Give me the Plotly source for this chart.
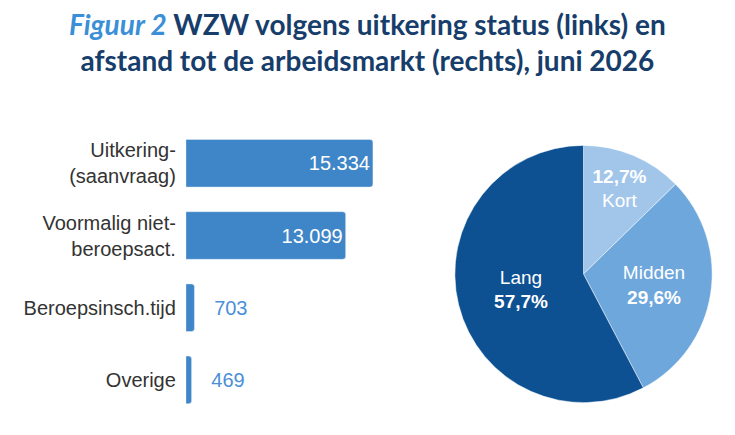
import plotly.graph_objects as go

# bar chart data (left)
categories = ["Uitkering-<br>(saanvraag)", "Voormalig niet-<br>beroepsact.", "Beroepsinsch.tijd", "Overige"]
counts = [15334, 13099, 703, 469]
count_labels = ["15.334", "13.099", "703", "469"]

# pie chart data (right)
pie_labels = ["Kort", "Midden", "Lang"]
pie_values = [12.7, 29.6, 57.7]
pie_text = ["<b>12,7%</b><br>Kort", "Midden<br><b>29,6%</b>", "Lang<br><b>57,7%</b>"]

bar_color = "#3f86c8"
pie_colors = ["#a2c6ea", "#6ea7dc", "#0d5192"]

title_text = ("<span style='color:#3a8fd6'><i>Figuur 2</i></span> WZW volgens uitkering status (links) en"
              "<br>afstand tot de arbeidsmarkt (rechts), juni 2026")

fig = go.Figure()

# small bars get their label outside, pushed a bit away from the bar
bar_text = [t if v > 5000 else "   " + t for t, v in zip(count_labels, counts)]
bar_pos = ["inside" if v > 5000 else "outside" for v in counts]

fig.add_trace(go.Bar(
    y=categories,
    x=counts,
    orientation="h",
    width=0.66,
    marker=dict(color=bar_color, cornerradius=3),
    text=bar_text,
    textposition=bar_pos,
    insidetextanchor="end",
    textfont=dict(family="Liberation Sans, Arial", size=20),
    insidetextfont=dict(color="white", size=20),
    outsidetextfont=dict(color="#4a8fd9", size=20),
    cliponaxis=False,
    hoverinfo="skip",
))

fig.add_trace(go.Pie(
    labels=pie_labels,
    values=pie_values,
    text=pie_text,
    textinfo="text",
    textposition="inside",
    insidetextorientation="horizontal",
    textfont=dict(family="Liberation Sans, Arial", size=19, color="white"),
    marker=dict(colors=pie_colors, line=dict(color="white", width=0.5)),
    sort=False,
    direction="clockwise",
    rotation=0,
    domain=dict(x=[0.608, 0.958], y=[0.092, 0.685]),
    showlegend=False,
    hoverinfo="skip",
))

fig.add_annotation(
    text=title_text,
    xref="paper", yref="paper",
    x=0.489, y=0.921,
    xanchor="center", yanchor="middle",
    showarrow=False,
    font=dict(family="Lato", size=28, color="#173d6b", weight="bold"),
)

fig.update_layout(
    width=735, height=435,
    margin=dict(l=0, r=0, t=0, b=0),
    paper_bgcolor="white",
    plot_bgcolor="white",
    showlegend=False,
    xaxis=dict(
        domain=[0.242, 0.6095],
        range=[0, 22140],
        visible=False,
    ),
    yaxis=dict(
        domain=[0.062, 0.726],
        autorange="reversed",
        showgrid=False,
        zeroline=False,
        showline=False,
        ticks="",
        ticklabelstandoff=9,
        tickfont=dict(family="Liberation Sans, Arial", size=20, color="#333333"),
    ),
)

fig.write_html("out.html")
